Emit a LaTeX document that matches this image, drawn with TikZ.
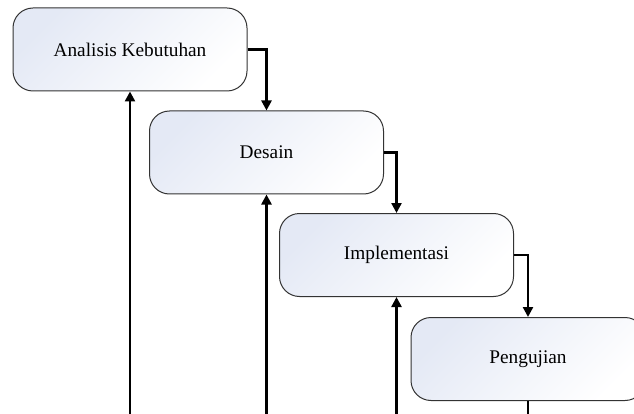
\documentclass[tikz,border=0pt]{standalone}
\usepackage{fontspec}
\setmainfont{Liberation Serif}
\usetikzlibrary{arrows.meta}
\definecolor{boxtint}{HTML}{E4E9F5}
\definecolor{boxline}{HTML}{333333}
\begin{document}
\begin{tikzpicture}[x=1pt,y=-1pt,
  stage/.style={draw=boxline, line width=1pt, rounded corners=20pt,
    minimum width=234pt, minimum height=83pt, inner sep=0pt,
    top color=boxtint, bottom color=white, shading angle=45,
    font=\fontsize{19.3}{22}\selectfont},
  flow/.style={line width=2.4pt, -{Triangle[width=10pt,length=10pt]}},
  plain/.style={line width=2.4pt}]
\useasboundingbox (0,0) rectangle (634,414);
\clip (0,0) rectangle (634,414);
\node[stage] (a) at (130,49.5) {Analisis Kebutuhan};
\node[stage] (b) at (266.5,152.5) {Desain};
\node[stage] (c) at (396.5,255) {Implementasi};
\node[stage] (d) at (528,359) {Pengujian};
\coordinate (fa) at (130,420);
\coordinate (fb) at (266.5,420);
\coordinate (fc) at (396.5,420);
\coordinate (fd) at (528,420);
\draw[flow] (a.east) -| (b.north);
\draw[flow] (b.east) -| (c.north);
\draw[flow] (c.east) -| (d.north);
\draw[flow] (fa) -- (a.south);
\draw[flow] (fb) -- (b.south);
\draw[flow] (fc) -- (c.south);
\draw[plain] (d.south) -- (fd);
\end{tikzpicture}
\end{document}
